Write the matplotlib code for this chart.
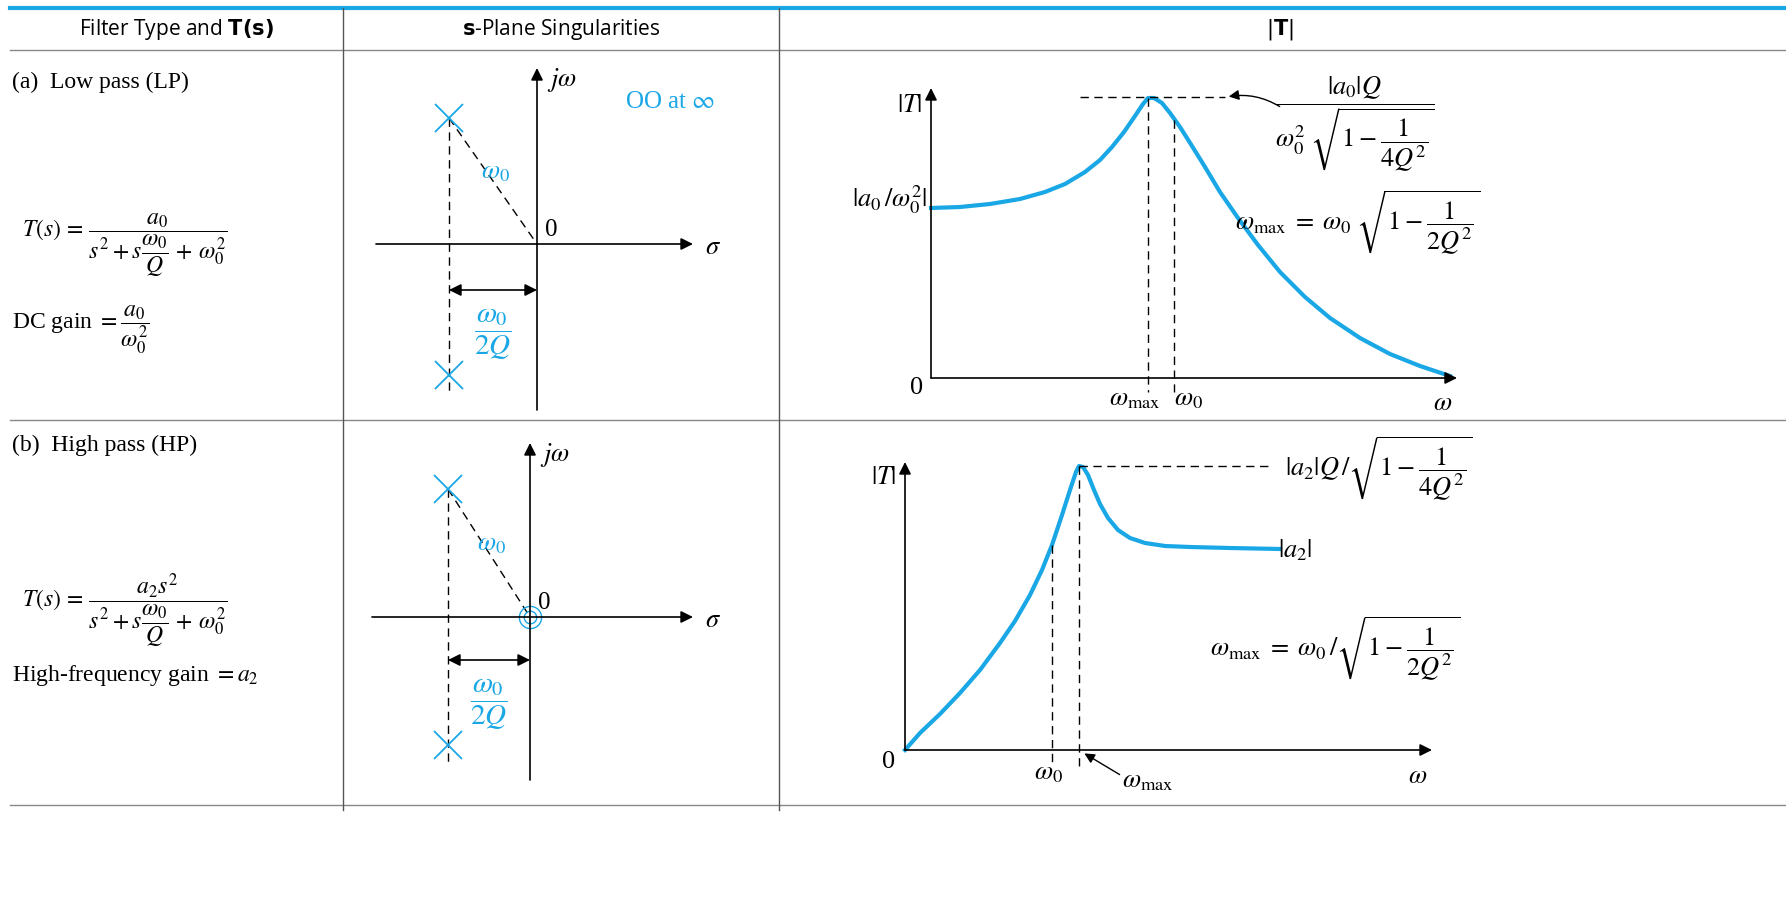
import matplotlib
matplotlib.use("Agg")
import matplotlib.pyplot as plt

plt.rcParams['mathtext.fontset'] = 'stix'
plt.rcParams['font.family'] = ['Liberation Serif', 'DejaVu Serif']

BLUE = '#1aa7e6'

# column headers
headers = ['Filter Type and $\\mathbf{T(s)}$', '$\\mathbf{s}$-Plane Singularities', '$|\\mathbf{T}|$']

# LP magnitude curve (pixel coords)
lp_x = [931, 960, 990, 1020, 1045, 1065, 1085, 1100, 1112, 1124, 1135, 1143, 1148, 1154, 1162, 1170, 1180,
        1192, 1205, 1220, 1238, 1258, 1280, 1305, 1330, 1360, 1390, 1420, 1450]
lp_y = [208, 207, 204, 199, 192, 184, 172, 160, 147, 132, 116, 104, 98, 98, 103, 113, 127,
        146, 167, 192, 218, 245, 272, 297, 318, 338, 354, 366, 376]

# HP magnitude curve
hp_x = [905, 920, 940, 960, 980, 1000, 1015, 1030, 1042, 1052, 1062, 1070, 1076, 1079, 1083, 1088, 1094,
        1100, 1108, 1118, 1130, 1145, 1165, 1190, 1230, 1280]
hp_y = [750, 733, 714, 693, 670, 643, 621, 595, 570, 545, 515, 490, 472, 466, 467, 475, 490,
        504, 518, 530, 538, 543, 546, 547, 548, 549]

fig = plt.figure(figsize=(17.86, 9.22), dpi=100)
ax = fig.add_axes([0, 0, 1, 1])
ax.set_xlim(0, 1786)
ax.set_ylim(922, 0)
ax.axis('off')

# table grid
ax.plot([10, 1786], [8, 8], color=BLUE, lw=3)
for y in [50, 420, 805]:
    ax.plot([10, 1786], [y, y], color='#888888', lw=1)
for x in [343, 779]:
    ax.plot([x, x], [8, 810], color='#555555', lw=1)

hx = [176, 561, 1280]
for x, h in zip(hx, headers):
    ax.text(x, 30, h, ha='center', va='center', fontsize=15, family=['Open Sans', 'DejaVu Sans'],
            math_fontfamily='dejavusans')

def arrow(x0, y0, x1, y1, style='-|>'):
    ax.annotate('', xy=(x1, y1), xytext=(x0, y0),
                arrowprops=dict(arrowstyle=style, color='k', lw=1.2, mutation_scale=18, shrinkA=0, shrinkB=0))

def splane(ox, oy, top, bot, left, right, px, ptop, pbot, ay, zero):
    arrow(ox, bot, ox, top)
    arrow(left, oy, right, oy)
    ax.text(ox + 10, top + 12, '$j\\omega$', fontsize=19, va='center')
    ax.text(right + 12, oy + 4, '$\\sigma$', fontsize=19, va='center')
    ax.text(ox + 8, oy - 14, '0', fontsize=18, va='center')
    ax.plot([px, px], [ptop, pbot + 20], 'k--', lw=1, dashes=(6, 4))
    ax.plot([px, ox], [ptop, oy], 'k--', lw=1, dashes=(6, 4))
    ax.plot([px, px], [ptop, pbot], 'x', color=BLUE, ms=20, mew=1.3)
    ax.text((px + ox) / 2 - 12, (ptop + oy) / 2 - 8, '$\\omega_0$', color=BLUE, fontsize=19, va='center')
    arrow(px, ay, ox, ay, '<|-|>')
    ax.text((px + ox) / 2, ay + 45, '$\\dfrac{\\omega_0}{2Q}$', color=BLUE, fontsize=21, ha='center', va='center')
    if zero:
        ax.plot(ox, oy, 'o', mfc='none', mec=BLUE, ms=16, mew=1)
        ax.plot(ox, oy, 'o', mfc='none', mec=BLUE, ms=9, mew=1)

splane(537, 244, 68, 410, 376, 693, 449, 118, 375, 290, False)
ax.text(670, 102, 'OO at $\\infty$', color=BLUE, fontsize=18, ha='center', va='center')
splane(530, 617, 443, 780, 372, 693, 448, 489, 745, 660, True)

# left column
ax.text(12, 82, '(a)  Low pass (LP)', fontsize=17, va='center')
ax.text(22, 245, '$T(s)\\,=\\,\\dfrac{a_0}{s^2+s\\dfrac{\\omega_0}{Q}\\,+\\,\\omega_0^2}$', fontsize=17, va='center')
ax.text(12, 330, 'DC gain $=\\dfrac{a_0}{\\omega_0^2}$', fontsize=17, va='center')
ax.text(12, 445, '(b)  High pass (HP)', fontsize=17, va='center')
ax.text(22, 610, '$T(s)\\,=\\,\\dfrac{a_2s^2}{s^2+s\\dfrac{\\omega_0}{Q}\\,+\\,\\omega_0^2}$', fontsize=17, va='center')
ax.text(12, 675, 'High-frequency gain $=a_2$', fontsize=17, va='center')

# LP magnitude
arrow(931, 378, 931, 88)
arrow(931, 378, 1457, 378)
ax.plot(lp_x, lp_y, color=BLUE, lw=3, solid_joinstyle='round')
ax.plot([1148, 1148], [98, 392], 'k--', lw=1, dashes=(6, 4))
ax.plot([1174, 1174], [120, 392], 'k--', lw=1, dashes=(6, 4))
ax.plot([1080, 1225], [97, 97], 'k--', lw=1, dashes=(6, 4))
ax.annotate('', xy=(1226, 97), xytext=(1282, 108),
            arrowprops=dict(arrowstyle='-|>', color='k', lw=1, mutation_scale=15,
                            connectionstyle='arc3,rad=0.2'))
ax.text(910, 106, '$|T|$', fontsize=19, va='center', ha='center')
ax.text(910, 388, '0', fontsize=19, va='center')
ax.text(1135, 400, '$\\omega_{\\rm max}$', fontsize=19, va='center', ha='center')
ax.text(1188, 400, '$\\omega_0$', fontsize=19, va='center', ha='center')
ax.text(1443, 404, '$\\omega$', fontsize=19, va='center', ha='center')
ax.text(927, 200, '$|a_0\\,/\\omega_0^2|$', fontsize=19, va='center', ha='right')
ax.text(1355, 124, '$\\dfrac{|a_0|Q}{\\omega_0^2\\;\\sqrt{1-\\dfrac{1}{4Q^2}}}$', fontsize=19, va='center', ha='center')
ax.text(1235, 222, '$\\omega_{\\rm max}\\;=\\;\\omega_0\\;\\sqrt{1-\\dfrac{1}{2Q^2}}$', fontsize=19, va='center')

# HP magnitude
arrow(905, 750, 905, 462)
arrow(905, 750, 1432, 750)
ax.plot(hp_x, hp_y, color=BLUE, lw=3, solid_joinstyle='round')
ax.plot([1052, 1052], [545, 766], 'k--', lw=1, dashes=(6, 4))
ax.plot([1079, 1079], [466, 766], 'k--', lw=1, dashes=(6, 4))
ax.plot([1079, 1270], [466, 466], 'k--', lw=1, dashes=(6, 4))
ax.annotate('', xy=(1082, 752), xytext=(1122, 776),
            arrowprops=dict(arrowstyle='-|>', color='k', lw=1, mutation_scale=15))
ax.text(884, 478, '$|T|$', fontsize=19, va='center', ha='center')
ax.text(882, 762, '0', fontsize=19, va='center')
ax.text(1048, 774, '$\\omega_0$', fontsize=19, va='center', ha='center')
ax.text(1148, 782, '$\\omega_{\\rm max}$', fontsize=19, va='center', ha='center')
ax.text(1418, 777, '$\\omega$', fontsize=19, va='center', ha='center')
ax.text(1285, 468, '$|a_2|Q\\,/\\sqrt{1-\\dfrac{1}{4Q^2}}$', fontsize=19, va='center')
ax.text(1278, 550, '$|a_2|$', fontsize=19, va='center')
ax.text(1210, 648, '$\\omega_{\\rm max}\\;=\\;\\omega_0\\,/\\sqrt{1-\\dfrac{1}{2Q^2}}$', fontsize=19, va='center')

fig.savefig('out.png', dpi=100)
